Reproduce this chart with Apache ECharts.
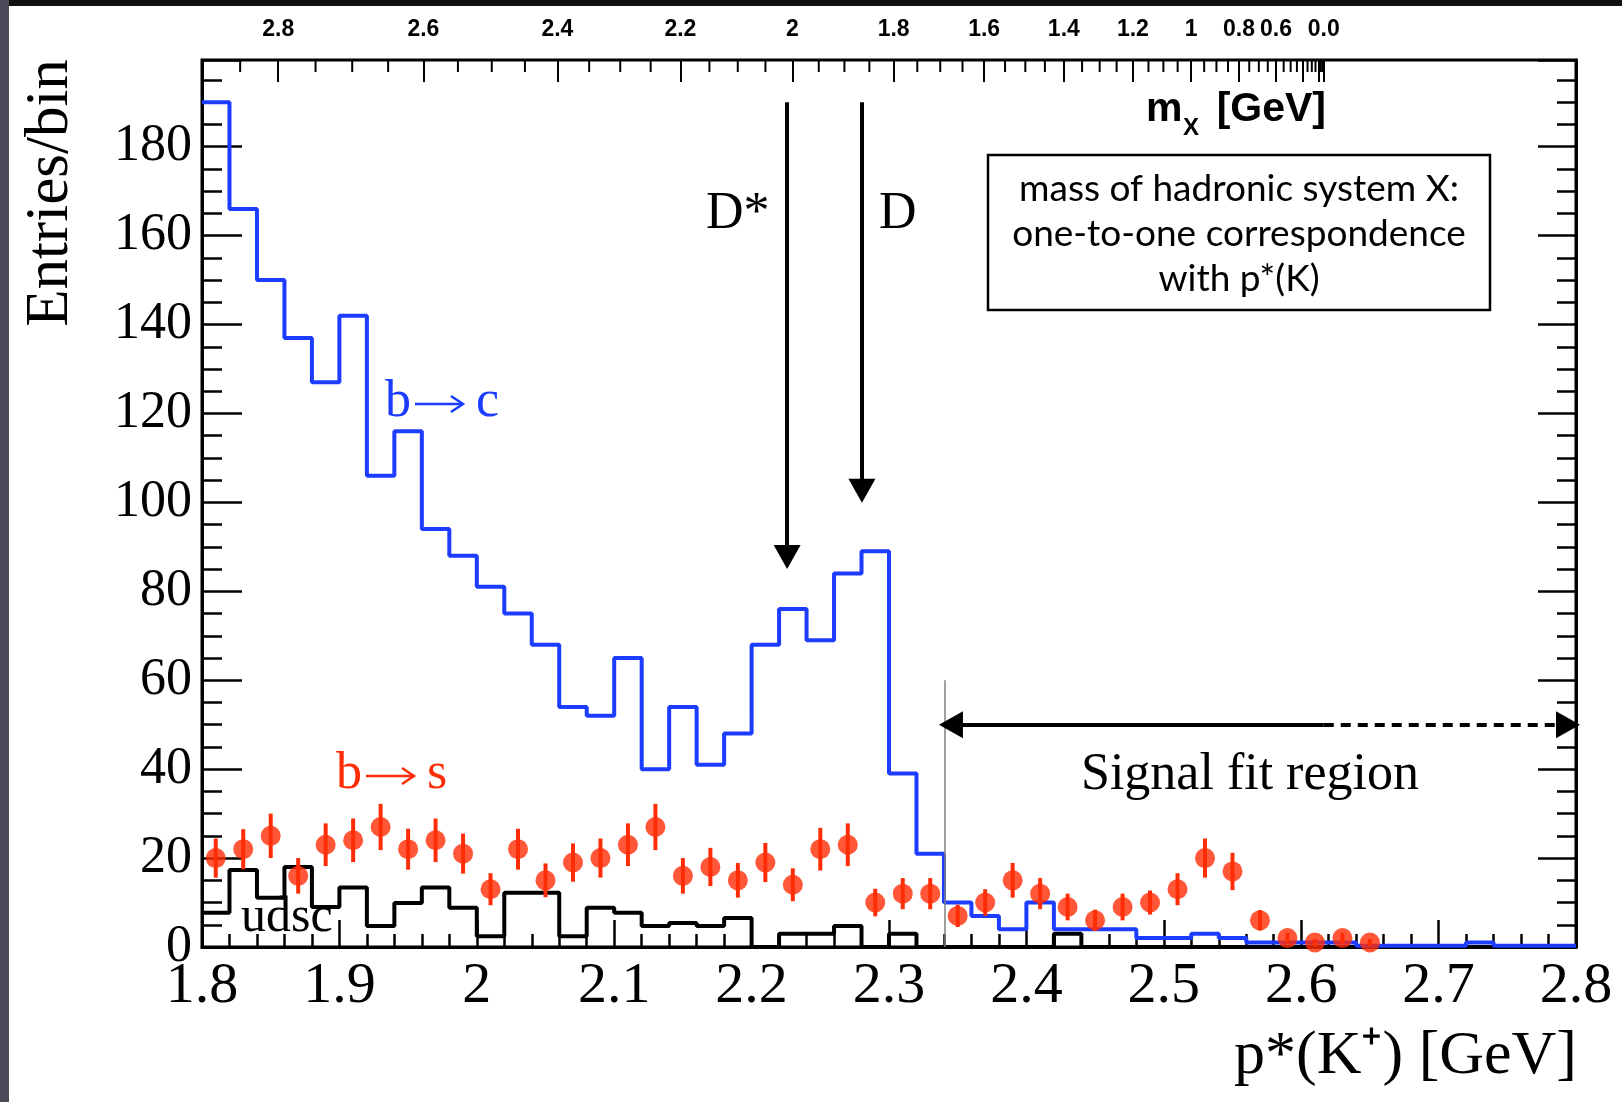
<!DOCTYPE html>
<html>
<head>
<meta charset="UTF-8">
<title>p*(K+) spectrum</title>
<script src="https://cdn.jsdelivr.net/npm/echarts@6/dist/echarts.min.js"></script>
<style>
  body { margin: 0; background: #fff; }
  #main { width: 1622px; height: 1102px; }
</style>
</head>
<body>
<div id="main"></div>
<script>
// kinematics used for the top m_X axis
var MB = 5.279, MK = 0.4937;

// binning of p*(K+) [GeV]
var binStart = 1.8, binWidth = 0.02;

// b -> c histogram (blue), 50 bins
var bToC = [190, 166, 150, 137, 127, 142, 106, 116, 94, 88,
            81, 75, 68, 54, 52, 65, 40, 54, 41, 48,
            68, 76, 69, 84, 89, 39, 21, 10, 7, 4,
            10, 4, 4, 4, 2, 2, 3, 2, 1, 1,
            1, 1, 0.3, 0.3, 0.3, 0.3, 1, 0.3, 0.3, 0.3];

// udsc continuum histogram (black)
var udsc = [7.7, 17.3, 11.1, 18, 9, 13.4, 4.7, 9.9, 13.4, 8.8,
            2.4, 12.2, 12.2, 2.4, 8.8, 7.7, 4.7, 5.4, 4.7, 6.5,
            0, 3, 3, 4.7, 0, 3, 0, 0, 0, 0,
            0, 3, 0, 0, 0, 0, 0, 0, 0, 0,
            0, 0, 0, 0, 0, 0, 0, 0, 0, 0];

// b -> s points (red) and their errors
var bToS = [20, 22, 25, 16, 23, 24, 27, 22, 24, 21,
            13, 22, 15, 19, 20, 23, 27, 16, 18, 15,
            19, 14, 22, 23, 10, 12, 12, 7, 10, 15,
            12, 9, 6, 9, 10, 13, 20, 17, 6, 2,
            1, 2, 1, null, null, null, null, null, null, null];
var bToSErr = [4.4, 4.5, 5.0, 4.0, 4.8, 4.9, 5.2, 4.6, 4.9, 4.5,
               3.6, 4.6, 3.8, 4.3, 4.4, 4.8, 5.2, 4.0, 4.3, 3.9,
               4.4, 3.7, 4.8, 4.8, 3.1, 3.5, 3.5, 2.5, 3.0, 3.9,
               3.5, 3.0, 2.4, 3.0, 2.7, 3.6, 4.4, 4.2, 2.3, 1.2,
               0.8, 1.2, 0.8, 0, 0, 0, 0, 0, 0, 0];

// top axis: m_X tick marks and labels
var mxMajor = [2.8, 2.6, 2.4, 2.2, 2.0, 1.8, 1.6, 1.4, 1.2, 1.0, 0.8, 0.6, 0.4, 0.2, 0.0];
var mxLabelValues = [2.8, 2.6, 2.4, 2.2, 2.0, 1.8, 1.6, 1.4, 1.2, 1.0, 0.8, 0.6, 0.0];
var mxLabels = ['2.8', '2.6', '2.4', '2.2', '2', '1.8', '1.6', '1.4', '1.2', '1', '0.8', '0.6', '0.0'];

// D*, D positions (m_X) for the arrows
var mDstar = 2.010, mD = 1.865;

var YMAX = 199.5;
var BLUE = '#1c3cff', RED = '#ff2d06';
var SERIF = '"Liberation Serif", "Times New Roman", serif';
var SANS = 'Lato, "Noto Sans", sans-serif';
var BOLD = '"Liberation Sans", Arial, sans-serif';

function pStar(mx) {
  var E = (MB * MB + MK * MK - mx * mx) / (2 * MB);
  return Math.sqrt(E * E - MK * MK);
}

function histLine(vals) {
  var d = vals.map(function (v, i) { return [binStart + i * binWidth, v]; });
  d.push([binStart + vals.length * binWidth, vals[vals.length - 1]]);
  return d;
}

var points = [];
bToS.forEach(function (v, i) {
  if (v !== null) points.push([binStart + (i + 0.5) * binWidth, v, bToSErr[i]]);
});

var majorP = mxMajor.map(pStar);
var labelP = mxLabelValues.map(pStar);
var minorP = [];
for (var m = 2.85; m > 0.01; m -= 0.05) {
  var r = Math.round(m * 100) / 100;
  if (Math.abs(r * 5 - Math.round(r * 5)) > 1e-6) minorP.push([pStar(r), YMAX]);
}

function mxLabel(value) {
  var best = 0, dist = 1e9;
  for (var i = 0; i < labelP.length; i++) {
    var dd = Math.abs(labelP[i] - value);
    if (dd < dist) { dist = dd; best = i; }
  }
  return mxLabels[best];
}

// small "b -> x" label: letter, long thin arrow, letter
function reaction(x, y, first, second, color) {
  var ay = y + 2;
  return {
    type: 'group', z: 100,
    children: [
      { type: 'text', x: x, y: y, style: { text: first, fontFamily: SERIF, fontSize: 52, fill: color, align: 'left', verticalAlign: 'middle' } },
      { type: 'line', shape: { x1: x + 30, y1: ay, x2: x + 78, y2: ay }, style: { stroke: color, lineWidth: 2.5 } },
      { type: 'polyline', shape: { points: [[x + 66, ay - 8], [x + 78, ay], [x + 66, ay + 8]] }, style: { stroke: color, lineWidth: 2.5, fill: null } },
      { type: 'text', x: x + 91, y: y, style: { text: second, fontFamily: SERIF, fontSize: 52, fill: color, align: 'left', verticalAlign: 'middle' } }
    ]
  };
}

var chart = echarts.init(document.getElementById('main'));

var blk = { color: '#000', width: 3 };

var option = {
  animation: false,
  backgroundColor: '#fff',
  grid: { left: 202, top: 60, width: 1374, height: 887, show: true, borderColor: '#000', borderWidth: 3 },
  xAxis: [{
    type: 'value', position: 'bottom', min: 1.8, max: 2.8, interval: 0.1,
    axisLine: { show: true, onZero: false, lineStyle: blk },
    axisTick: { inside: true, length: 27, lineStyle: { color: '#000', width: 2.5 } },
    minorTick: { show: true, splitNumber: 5, length: 13, lineStyle: { color: '#000', width: 2.5 } },
    splitLine: { show: false },
    axisLabel: { fontFamily: SERIF, fontSize: 58, color: '#000', margin: 11 }
  }, {
    type: 'value', position: 'top', min: 1.8, max: 2.8,
    axisLine: { show: false, onZero: false },
    axisTick: { inside: true, length: 22, customValues: majorP, lineStyle: { color: '#000', width: 2 } },
    splitLine: { show: false },
    axisLabel: { customValues: labelP, formatter: mxLabel, fontFamily: BOLD, fontWeight: 'bold', fontSize: 23, color: '#000', margin: 19 }
  }],
  yAxis: [{
    type: 'value', position: 'left', min: 0, max: YMAX, interval: 20,
    axisLine: { show: true, onZero: false, lineStyle: blk },
    axisTick: { inside: true, length: 40, lineStyle: { color: '#000', width: 2.5 } },
    minorTick: { show: true, splitNumber: 4, length: 20, lineStyle: { color: '#000', width: 2.5 } },
    splitLine: { show: false },
    axisLabel: { fontFamily: SERIF, fontSize: 52, color: '#000', margin: 10, padding: [18, 0, 0, 0], showMaxLabel: false }
  }, {
    type: 'value', position: 'right', min: 0, max: YMAX, interval: 20,
    axisLine: { show: true, onZero: false, lineStyle: blk },
    axisTick: { inside: true, length: 38, lineStyle: { color: '#000', width: 2.5 } },
    minorTick: { show: true, splitNumber: 4, length: 19, lineStyle: { color: '#000', width: 2.5 } },
    splitLine: { show: false },
    axisLabel: { show: false }
  }],
  series: [{
    name: 'udsc', type: 'line', step: 'end', symbol: 'none',
    data: histLine(udsc),
    lineStyle: { color: '#000', width: 4 }, z: 3
  }, {
    name: 'b->c', type: 'line', step: 'end', symbol: 'none',
    data: histLine(bToC),
    lineStyle: { color: BLUE, width: 4 }, z: 4
  }, {
    name: 'b->s err', type: 'custom', z: 5,
    data: points,
    renderItem: function (params, api) {
      var x = api.value(0), v = api.value(1), e = api.value(2);
      var a = api.coord([x, v - e]), b = api.coord([x, v + e]);
      return { type: 'line', shape: { x1: a[0], y1: a[1], x2: b[0], y2: b[1] },
               style: { stroke: RED, lineWidth: 4 } };
    }
  }, {
    name: 'b->s', type: 'scatter', z: 6,
    data: points.map(function (p) { return [p[0], p[1]]; }),
    symbol: 'circle', symbolSize: 20, itemStyle: { color: RED }
  }, {
    // minor ticks of the m_X axis, hanging from the top frame
    name: 'mx minor ticks', type: 'custom', z: 2, clip: false,
    data: minorP,
    renderItem: function (params, api) {
      var pt = api.coord([api.value(0), api.value(1)]);
      return { type: 'line', shape: { x1: pt[0], y1: pt[1], x2: pt[0], y2: pt[1] + 12 },
               style: { stroke: '#000', lineWidth: 2 } };
    }
  }, {
    name: 'annotations', type: 'line', data: [], clip: false, z: 7,
    markLine: {
      silent: true, animation: false, label: { show: false },
      symbolSize: [27, 24],
      data: [
        [{ coord: [pStar(mDstar), 190], symbol: 'none', lineStyle: { color: '#000', width: 4, type: 'solid' }, itemStyle: { color: '#000' } },
         { coord: [pStar(mDstar), 87.7], symbol: 'triangle' }],
        [{ coord: [pStar(mD), 190], symbol: 'none', lineStyle: { color: '#000', width: 4, type: 'solid' }, itemStyle: { color: '#000' } },
         { coord: [pStar(mD), 102.6], symbol: 'triangle' }],
        [{ coord: [2.3408, 60], symbol: 'none', lineStyle: { color: '#808080', width: 1.5, type: 'solid' } },
         { coord: [2.3408, 0], symbol: 'none' }],
        [{ coord: [2.3451, 50], symbol: 'triangle', lineStyle: { color: '#000', width: 4, type: 'solid' }, itemStyle: { color: '#000' } },
         { coord: [pStar(0), 50], symbol: 'none' }],
        [{ coord: [pStar(0), 50], symbol: 'none', lineStyle: { color: '#000', width: 4, type: [10, 7] }, itemStyle: { color: '#000' } },
         { coord: [2.7942, 50], symbol: 'triangle' }]
      ]
    }
  }],
  graphic: [
    { type: 'rect', z: 100, shape: { x: 0, y: 0, width: 1622, height: 6 }, style: { fill: '#111' } },
    { type: 'rect', z: 100, shape: { x: 0, y: 0, width: 9, height: 1102 }, style: { fill: '#4a4a58' } },
    { type: 'text', z: 100, x: 51, y: 193, rotation: Math.PI / 2,
      style: { text: 'Entries/bin', fontFamily: SERIF, fontSize: 61, fill: '#000', align: 'center', verticalAlign: 'middle' } },
    { type: 'text', z: 100, x: 1577, y: 1057,
      style: { text: 'p*(K\u207A) [GeV]', fontFamily: SERIF, fontSize: 62, fill: '#000', align: 'right', verticalAlign: 'middle' } },
    { type: 'text', z: 100, x: 1146, y: 110,
      style: { text: 'm', fontFamily: BOLD, fontWeight: 'bold', fontSize: 41, fill: '#000', align: 'left', verticalAlign: 'middle' } },
    { type: 'text', z: 100, x: 1183, y: 128,
      style: { text: 'X', fontFamily: BOLD, fontWeight: 'bold', fontSize: 24, fill: '#000', align: 'left', verticalAlign: 'middle' } },
    { type: 'text', z: 100, x: 1326, y: 110,
      style: { text: '[GeV]', fontFamily: BOLD, fontWeight: 'bold', fontSize: 41, fill: '#000', align: 'right', verticalAlign: 'middle' } },
    { type: 'rect', z: 100, shape: { x: 988, y: 155, width: 502, height: 155 }, style: { fill: '#fff', stroke: '#000', lineWidth: 2.5 } },
    { type: 'text', z: 101, x: 1239, y: 234,
      style: { text: 'mass of hadronic system X:\none-to-one correspondence\nwith p*(K)', fontFamily: SANS, fontSize: 37, lineHeight: 45, fill: '#000', align: 'center', verticalAlign: 'middle' } },
    { type: 'text', z: 100, x: 706, y: 214,
      style: { text: 'D*', fontFamily: SERIF, fontSize: 52, fill: '#000', align: 'left', verticalAlign: 'middle' } },
    { type: 'text', z: 100, x: 879, y: 214,
      style: { text: 'D', fontFamily: SERIF, fontSize: 52, fill: '#000', align: 'left', verticalAlign: 'middle' } },
    reaction(385, 402, 'b', 'c', BLUE),
    reaction(336, 774, 'b', 's', RED),
    { type: 'text', z: 100, x: 241, y: 918,
      style: { text: 'udsc', fontFamily: SERIF, fontSize: 50, fill: '#000', align: 'left', verticalAlign: 'middle' } },
    { type: 'text', z: 100, x: 1081, y: 775,
      style: { text: 'Signal fit region', fontFamily: SERIF, fontSize: 52, fill: '#000', align: 'left', verticalAlign: 'middle' } }
  ]
};

chart.setOption(option);
</script>
</body>
</html>
